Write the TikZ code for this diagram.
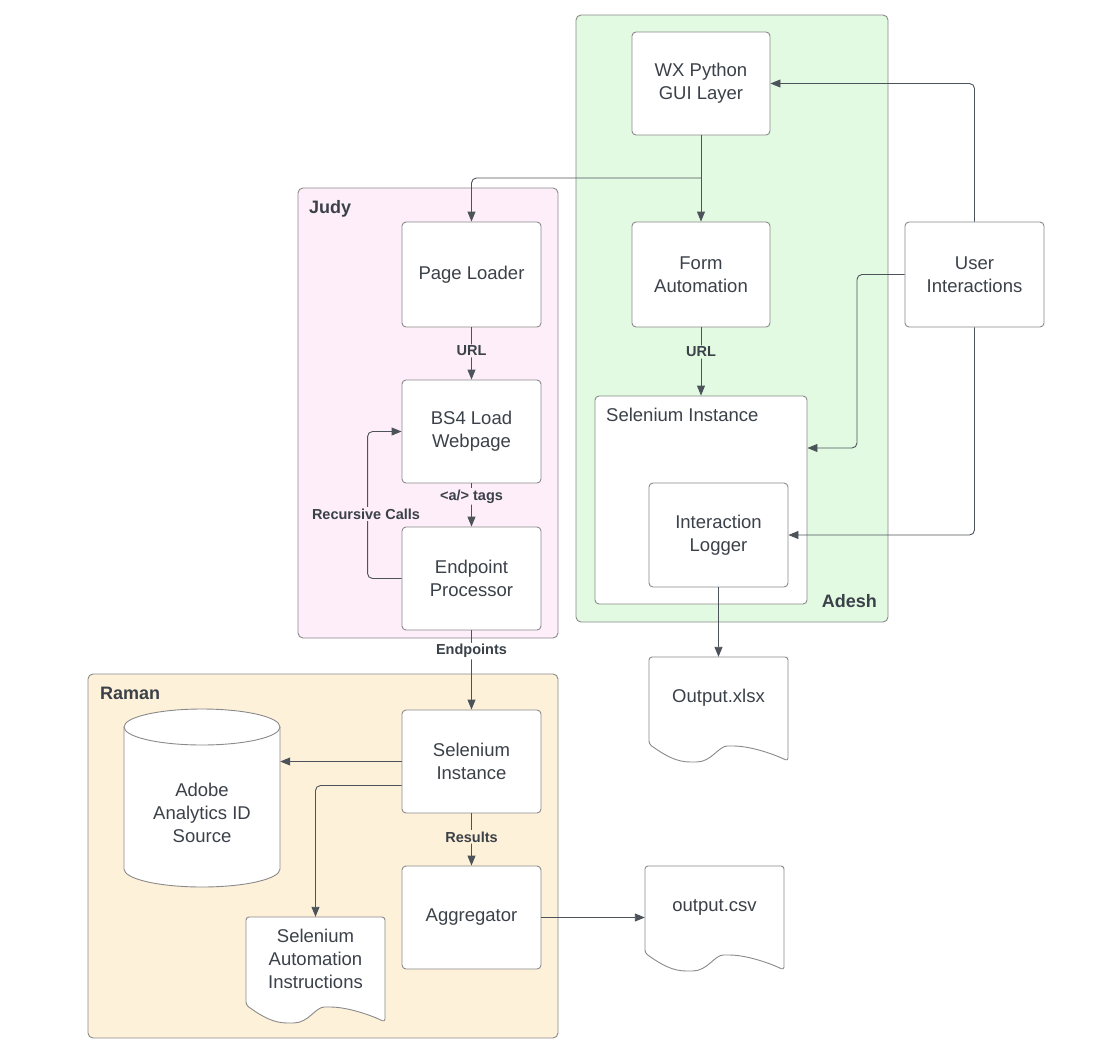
\documentclass[tikz,border=0pt]{standalone}
\usepackage{fontspec}
\setmainfont{Liberation Sans}
\usetikzlibrary{arrows.meta}
\definecolor{txt}{HTML}{3B4149}
\definecolor{edge}{HTML}{4D535A}
\definecolor{bord}{HTML}{8A8A8A}
\definecolor{gfill}{HTML}{E2FAE2}
\definecolor{pfill}{HTML}{FDEEF9}
\definecolor{ofill}{HTML}{FEF1DA}
\newcommand\docoutline[4]{%
  \draw[docst] (#1,{-(#2+#4-17)}) -- (#1,{-#2}) -- ({#1+#3},{-#2}) -- ({#1+#3},{-(#2+#4)})
   .. controls ({#1+0.88*#3},{-(#2+#4-8)}) and ({#1+0.72*#3},{-(#2+#4-15)}) .. ({#1+0.585*#3},{-(#2+#4-15)})
   .. controls ({#1+0.5*#3},{-(#2+#4-15)}) and ({#1+0.45*#3},{-(#2+#4+1)}) .. ({#1+0.32*#3},{-(#2+#4+1)})
   .. controls ({#1+0.2*#3},{-(#2+#4+1)}) and ({#1+0.12*#3},{-(#2+#4-5)}) .. (#1,{-(#2+#4-17)}) -- cycle;}
\begin{document}
\begin{tikzpicture}[x=1pt,y=1pt,
  box/.style={draw=bord, fill=white, rounded corners=4pt, line width=0.9pt,
    minimum width=139pt, minimum height=104pt, align=center, inner sep=0pt,
    font=\fontsize{18.5}{23}\selectfont, text=txt},
  container/.style={draw=bord, rounded corners=5pt, line width=0.9pt, inner sep=0pt},
  grp/.style={font=\bfseries\fontsize{18}{22}\selectfont, text=txt, inner sep=0pt},
  txtnode/.style={align=center, inner sep=0pt, font=\fontsize{18.5}{23}\selectfont, text=txt},
  lbl/.style={font=\bfseries\fontsize{14.5}{17}\selectfont, text=txt, inner sep=1.5pt},
  hold/.style={inner sep=0pt, minimum width=139pt, minimum height=104pt},
  docst/.style={draw=bord, fill=white, line width=0.9pt, rounded corners=3pt},
  arr/.style={draw=edge, line width=0.9pt, rounded corners=5pt, -{Triangle[length=10pt,width=8pt]}},
  ln/.style={draw=edge, line width=0.9pt, rounded corners=5pt}
]
\fill[white] (0,0) rectangle (1098,-1058);
\useasboundingbox (0,0) rectangle (1098,-1058);

% containers
\node[container, fill=gfill, minimum width=312pt, minimum height=607pt] (adesh) at (732,-318.5) {};
\node[container, fill=pfill, minimum width=260pt, minimum height=450pt] (judy) at (428,-413) {};
\node[container, fill=ofill, minimum width=470pt, minimum height=364pt] (raman) at (323,-856) {};
\node[grp, anchor=west] (judyl) at (309,-209) {Judy};
\node[grp, anchor=west] (ramanl) at (100,-693) {Raman};
\node[grp, anchor=east] (adeshl) at (877,-601) {Adesh};

% Adesh
\node[box, minimum width=138pt, minimum height=103pt] (wx) at (701,-83.5) {WX Python\\GUI Layer};
\node[box, minimum width=138pt, minimum height=105pt] (form) at (701,-274.5) {Form\\Automation};
\node[box, minimum width=212pt, minimum height=208pt] (asel) at (701,-500) {};
\node[txtnode, anchor=west] (aselt) at (606,-415) {Selenium Instance};
\node[box] (il) at (718.5,-535) {Interaction\\Logger};
\node[box, minimum height=105pt] (ui) at (974.5,-274.5) {User\\Interactions};

% Judy
\node[box, minimum height=105pt] (pl) at (471.5,-274.5) {Page Loader};
\node[box, minimum height=103pt] (bs4) at (471.5,-431.5) {BS4 Load\\Webpage};
\node[box, minimum height=103pt] (ep) at (471.5,-578.5) {Endpoint\\Processor};

% Raman
\node[box, minimum height=103pt] (rsel) at (471.5,-761.5) {Selenium\\Instance};
\node[box, minimum height=103pt] (agg) at (471.5,-917.5) {Aggregator};
\node[inner sep=0pt, minimum width=156pt, minimum height=178pt] (adobe) at (202,-798) {};
\draw[draw=bord, fill=white, line width=0.9pt] (124,-727) -- (124,-869)
  arc[start angle=180, end angle=360, x radius=78pt, y radius=18pt] -- (280,-727)
  arc[start angle=0, end angle=180, x radius=78pt, y radius=18pt] -- cycle;
\draw[draw=bord, line width=0.9pt] (124,-727) arc[start angle=180, end angle=360, x radius=78pt, y radius=18pt];
\node[txtnode] (adobet) at (202,-813) {Adobe\\Analytics ID\\Source};

% documents
\docoutline{246}{917}{139}{105}
\node[hold, minimum height=105pt] (sai) at (315.5,-969.5) {};
\node[txtnode] (sait) at (315.5,-958.5) {Selenium\\Automation\\Instructions};
\docoutline{649}{657}{139}{104}
\node[hold] (xlsx) at (718.5,-709) {};
\node[txtnode] (xlsxt) at (718.5,-698) {Output.xlsx};
\docoutline{645}{866}{139}{104}
\node[hold] (csv) at (714.5,-918) {};
\node[txtnode] (csvt) at (714.5,-907) {output.csv};

% connectors
\coordinate (j1) at (701,-178);
\draw[arr] (wx.south) -- (form.north);
\draw[arr] (j1) -| (pl.north);
\draw[arr] (pl.south) -- node[lbl, fill=pfill, pos=0.45] (urlj) {URL} (bs4.north);
\draw[arr] (bs4.south) -- node[lbl, fill=pfill, pos=0.3] (tags) {<a/> tags} (ep.north);
\draw[arr] (ep.west) -- ++(-34,0) |- (bs4.west);
\node[lbl, fill=pfill] (rc) at (366,-514) {Recursive Calls};
\draw[arr] (ep.south) -- node[lbl, fill=white, pos=0.26] (endp) {Endpoints} (rsel.north);
\draw[arr] (form.south) -- node[lbl, fill=gfill, pos=0.36] (urla) {URL} (asel.north);
\draw[arr] (ui.north) |- (wx.east);
\draw[arr] (ui.west) -| (857,-448) -- (asel.east |- 0,-448);
\draw[arr] (ui.south) |- (il.east);
\draw[arr] (il.south) -- (xlsx.north);
\draw[arr] (rsel.west) -- (rsel.west -| adobe.east);
\draw[arr] ([yshift=-24pt]rsel.west) -| (sai.north);
\draw[arr] (rsel.south) -- node[lbl, fill=ofill, pos=0.45] (res) {Results} (agg.north);
\draw[arr] (agg.east) -- (agg.east -| csv.west);
\end{tikzpicture}
\end{document}
